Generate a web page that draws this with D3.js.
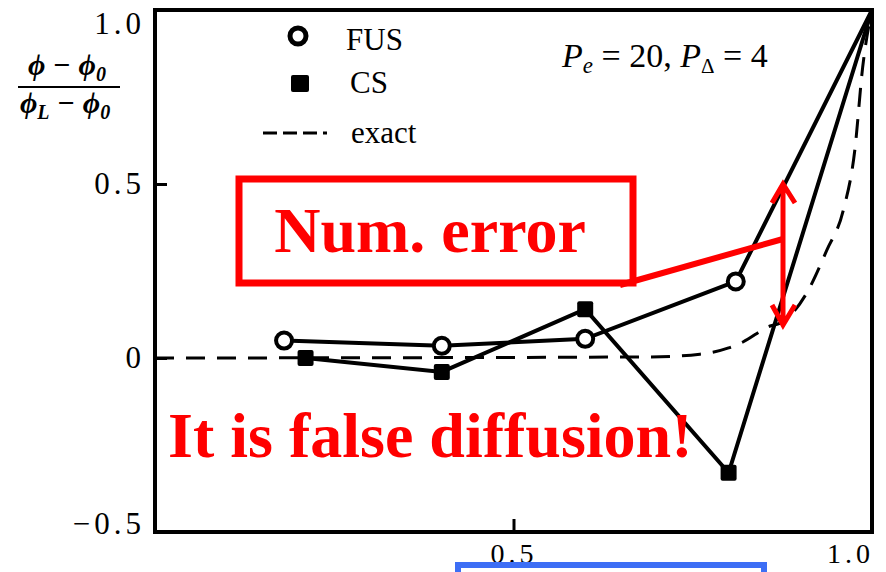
<!DOCTYPE html>
<html>
<head>
<meta charset="utf-8">
<script src="https://cdn.jsdelivr.net/npm/d3@7"></script>
<style>
  body { margin: 0; background: #fff; }
  svg { display: block; font-family: "Liberation Serif", "Times New Roman", serif; }
  .tick text { font-family: "Liberation Serif", "Times New Roman", serif; }
</style>
</head>
<body>
<div id="chart"></div>
<script>
// values
const fusX = [0.18, 0.40, 0.60, 0.81, 1.0];
const fusY = [0.05, 0.035, 0.055, 0.22, 1.0];
const csX = [0.21, 0.40, 0.60, 0.80, 1.0];
const csY = [0.0, -0.04, 0.14, -0.33, 1.0];
const exactX = [0, 0.69, 0.76, 0.80, 0.82, 0.858, 0.872, 0.909, 0.937, 0.96, 0.976, 0.987, 1.0];
const exactY = [0, 0.003, 0.011, 0.029, 0.046, 0.092, 0.10, 0.187, 0.31, 0.425, 0.597, 0.836, 1.0];
const yTicks = [-0.5, 0, 0.5, 1.0];
const yTickLabels = ['\u22120.5', '0', '0.5', '1.0'];
const xTicks = [0.5, 1.0];
const xTickLabels = ['0.5', '1.0'];

const width = 886, height = 572;
const plotLeft = 155, plotRight = 872, plotTop = 10, plotBottom = 532;

const svg = d3.select('#chart').append('svg')
    .attr('width', width)
    .attr('height', height);

const x = d3.scaleLinear().domain([0, 1]).range([plotLeft, plotRight]);
const y = d3.scaleLinear().domain([-0.5, 1]).range([plotBottom, plotTop]);

const fus = fusX.map((v, i) => ({x: v, y: fusY[i]}));
const cs = csX.map((v, i) => ({x: v, y: csY[i]}));
const exact = exactX.map((v, i) => ({x: v, y: exactY[i]}));

// axes (ticks inward, frame drawn separately)
const yAxis = d3.axisLeft(y)
    .tickValues(yTicks)
    .tickFormat((d, i) => yTickLabels[i])
    .tickSizeInner(-12)
    .tickSizeOuter(0)
    .tickPadding(10);

const xAxis = d3.axisBottom(x)
    .tickValues(xTicks)
    .tickFormat((d, i) => xTickLabels[i])
    .tickSizeInner(-13)
    .tickSizeOuter(0)
    .tickPadding(11);

const gy = svg.append('g')
    .attr('transform', 'translate(' + plotLeft + ',0)')
    .call(yAxis);
const gx = svg.append('g')
    .attr('transform', 'translate(0,' + plotBottom + ')')
    .call(xAxis);

[gx, gy].forEach(g => {
    g.attr('font-family', null).attr('font-size', null);
    g.select('.domain').remove();
    g.selectAll('line').attr('stroke', '#000').attr('stroke-width', 3);
    g.selectAll('text')
        .style('font-family', '"Liberation Serif", serif')
        .style('font-size', '31px')
        .attr('fill', '#000')
        .attr('letter-spacing', 4);
});
gx.selectAll('text').style('font-size', '28px');
gy.selectAll('.tick')
    .filter(d => d === 1.0)
    .select('text').attr('dy', '0.75em');
gy.selectAll('.tick')
    .filter(d => d === -0.5)
    .select('text').attr('dy', '0.05em');
gx.selectAll('.tick')
    .filter(d => d === 1.0)
    .select('text').attr('dx', -22);

svg.append('rect')
    .attr('x', plotLeft)
    .attr('y', plotTop)
    .attr('width', plotRight - plotLeft)
    .attr('height', plotBottom - plotTop)
    .attr('fill', 'none')
    .attr('stroke', '#000')
    .attr('stroke-width', 4);

// y label as a fraction
const lab = svg.append('g')
    .attr('font-style', 'italic')
    .attr('font-weight', 'bold')
    .attr('font-size', 30)
    .attr('fill', '#000');
const num = lab.append('text').attr('x', 28).attr('y', 75);
num.append('tspan').text('\u03d5 \u2212 \u03d5');
num.append('tspan').attr('font-size', 20).attr('dy', 6).text('0');
lab.append('line')
    .attr('x1', 18).attr('x2', 120)
    .attr('y1', 87).attr('y2', 87)
    .attr('stroke', '#000').attr('stroke-width', 2);
const den = lab.append('text').attr('x', 20).attr('y', 113);
den.append('tspan').text('\u03d5');
den.append('tspan').attr('font-size', 20).attr('dy', 6).text('L');
den.append('tspan').attr('dy', -6).text(' \u2212 \u03d5');
den.append('tspan').attr('font-size', 20).attr('dy', 6).text('0');

const smooth = d3.line().x(d => x(d.x)).y(d => y(d.y)).curve(d3.curveMonotoneX);
const straight = d3.line().x(d => x(d.x)).y(d => y(d.y));

svg.append('path')
    .datum(exact)
    .attr('d', smooth)
    .attr('fill', 'none')
    .attr('stroke', '#000')
    .attr('stroke-width', 3)
    .attr('stroke-dasharray', '19 12');

svg.append('path')
    .datum(cs)
    .attr('d', straight)
    .attr('fill', 'none')
    .attr('stroke', '#000')
    .attr('stroke-width', 4);

svg.append('path')
    .datum(fus)
    .attr('d', straight)
    .attr('fill', 'none')
    .attr('stroke', '#000')
    .attr('stroke-width', 4);

svg.selectAll('rect.cs')
    .data(cs.slice(0, 4))
    .enter()
    .append('rect')
    .attr('class', 'cs')
    .attr('x', d => x(d.x) - 8)
    .attr('y', d => y(d.y) - 8)
    .attr('width', 16)
    .attr('height', 16)
    .attr('rx', 2)
    .attr('fill', '#000');

svg.selectAll('circle.fus')
    .data(fus.slice(0, 4))
    .enter()
    .append('circle')
    .attr('class', 'fus')
    .attr('cx', d => x(d.x))
    .attr('cy', d => y(d.y))
    .attr('r', 8)
    .attr('fill', '#fff')
    .attr('stroke', '#000')
    .attr('stroke-width', 4);

// legend
const legend = svg.append('g').attr('font-size', 31).attr('fill', '#000');
legend.append('circle')
    .attr('cx', 298).attr('cy', 36).attr('r', 8)
    .attr('fill', '#fff').attr('stroke', '#000').attr('stroke-width', 5);
legend.append('text').attr('x', 346).attr('y', 50).text('FUS');
legend.append('rect')
    .attr('x', 291).attr('y', 75).attr('width', 18).attr('height', 17).attr('rx', 2)
    .attr('fill', '#000');
legend.append('text').attr('x', 350).attr('y', 93).text('CS');
legend.append('line')
    .attr('x1', 263).attr('x2', 327).attr('y1', 133).attr('y2', 133)
    .attr('stroke', '#000').attr('stroke-width', 3)
    .attr('stroke-dasharray', '14 6');
legend.append('text').attr('x', 351).attr('y', 143).text('exact');

const pe = svg.append('text')
    .attr('x', 562).attr('y', 67)
    .attr('font-size', 34)
    .attr('fill', '#000');
pe.append('tspan').attr('font-style', 'italic').text('P');
pe.append('tspan').attr('font-style', 'italic').attr('font-size', 23).attr('dy', 6).text('e');
pe.append('tspan').attr('dy', -6).text(' = 20, ');
pe.append('tspan').attr('font-style', 'italic').text('P');
pe.append('tspan').attr('font-size', 21).attr('dy', 6).text('\u0394');
pe.append('tspan').attr('dy', -6).text(' = 4');

// red annotations
const red = '#ff0000';
svg.append('rect')
    .attr('x', 239).attr('y', 179)
    .attr('width', 394).attr('height', 104)
    .attr('fill', 'none')
    .attr('stroke', red)
    .attr('stroke-width', 7);
svg.append('text')
    .attr('x', 430).attr('y', 252)
    .attr('text-anchor', 'middle')
    .attr('font-size', 64)
    .attr('font-weight', 'bold')
    .attr('fill', red)
    .text('Num. error');
svg.append('line')
    .attr('x1', 620).attr('y1', 285)
    .attr('x2', 783).attr('y2', 239)
    .attr('stroke', red).attr('stroke-width', 6);
svg.append('path')
    .attr('d', 'M783,184V325M772,203L783,184L795,203M772,305L783,325L795,305')
    .attr('fill', 'none')
    .attr('stroke', red)
    .attr('stroke-width', 5);
svg.append('text')
    .attr('x', 168).attr('y', 457)
    .attr('font-size', 64)
    .attr('font-weight', 'bold')
    .attr('fill', red)
    .text('It is false diffusion!');

// blue box at the bottom edge
svg.append('rect')
    .attr('x', 458).attr('y', 565)
    .attr('width', 306).attr('height', 40)
    .attr('fill', '#fff')
    .attr('stroke', '#3d6ef5')
    .attr('stroke-width', 6);
</script>
</body>
</html>
